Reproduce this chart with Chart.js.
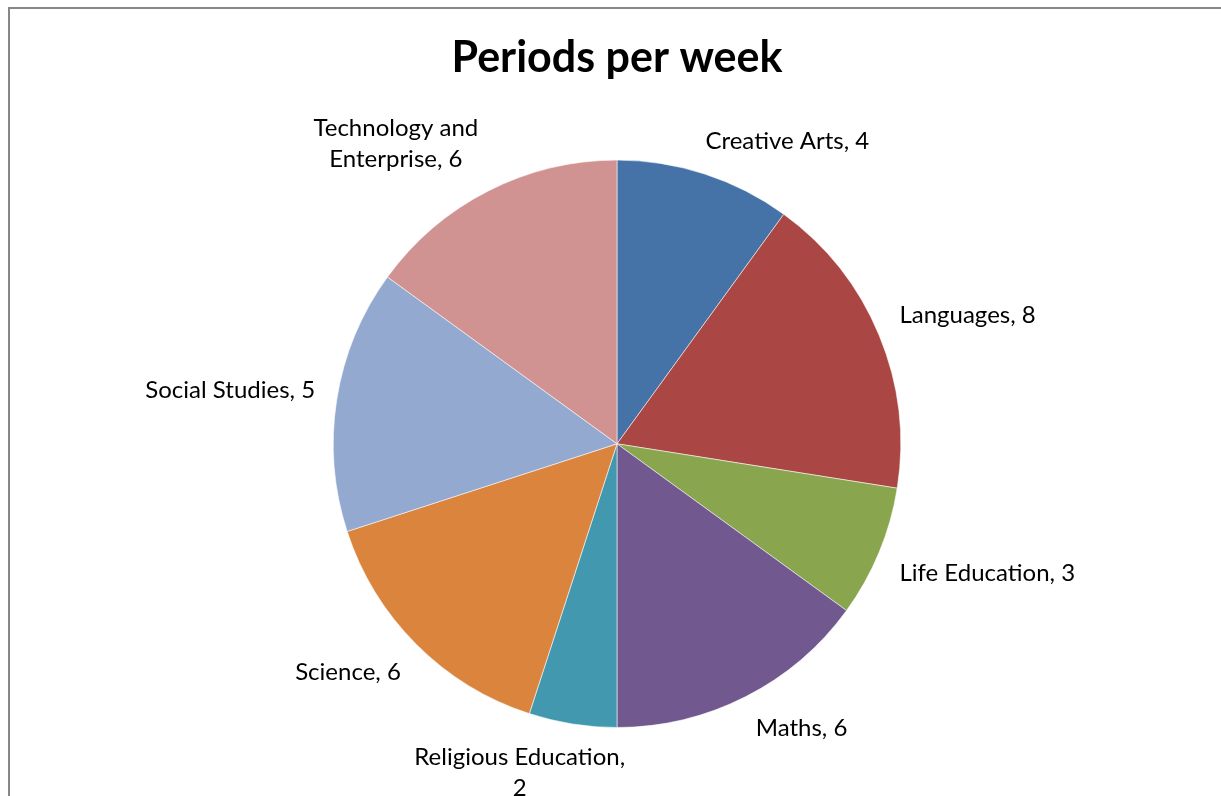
<!DOCTYPE html>
<html>
<head>
<meta charset="utf-8">
<script src="https://cdn.jsdelivr.net/npm/chart.js@4/dist/chart.umd.min.js"></script>
<style>
  html, body { margin: 0; padding: 0; background: #fff; overflow: hidden; }
  #wrap { position: relative; width: 1221px; height: 796px; }
  #frame {
    position: absolute; left: 8px; top: 7px; width: 1300px; height: 900px;
    border-left: 2px solid #878787; border-top: 2px solid #878787;
    pointer-events: none;
  }
</style>
</head>
<body>
<div id="wrap">
  <canvas id="pieChart" width="1221" height="796"></canvas>
  <div id="frame"></div>
</div>
<script>
// datos del gráfico
const subjects = ["Creative Arts", "Languages", "Life Education", "Maths",
  "Religious Education", "Science", "Social Studies", "Technology and Enterprise"];
// tamaño de los sectores tal como se ven dibujados
const slicePeriods = [4, 7, 3, 6, 2, 6, 6, 6];
// valores que se leen en las etiquetas
const labelPeriods = [4, 8, 3, 6, 2, 6, 5, 6];
const sliceColors = ["#4572A7", "#AA4643", "#89A54E", "#71588F",
  "#4198AF", "#DB843D", "#93A9CF", "#D19392"];

const LABEL_FONT = "24px Lato";
const LABEL_MAX_W = 222;
const LABEL_GAP = 22;
const LINE_H = 31;

// partir el texto en lineas si es muy ancho
function wrapText(ctx, text, maxW) {
  const words = text.split(" ");
  const lines = [];
  let line = "";
  words.forEach(w => {
    const test = line ? line + " " + w : w;
    if (ctx.measureText(test).width > maxW && line) {
      lines.push(line);
      line = w;
    } else {
      line = test;
    }
  });
  if (line) lines.push(line);
  return lines;
}

const clamp = (v, a, b) => Math.max(a, Math.min(b, v));

// etiquetas fuera de cada sector, como en Excel
const outsideLabels = {
  id: "outsideLabels",
  afterDatasetsDraw(chart) {
    const ctx = chart.ctx;
    const meta = chart.getDatasetMeta(0);
    ctx.save();
    ctx.font = LABEL_FONT;
    ctx.fillStyle = "#000";
    ctx.textAlign = "center";
    ctx.textBaseline = "middle";
    meta.data.forEach((arc, i) => {
      const text = subjects[i] + ", " + labelPeriods[i];
      const lines = wrapText(ctx, text, LABEL_MAX_W);
      const w = Math.max(...lines.map(l => ctx.measureText(l).width));
      const h = lines.length * LINE_H - 7;
      const mid = (arc.startAngle + arc.endAngle) / 2;
      const dx = Math.cos(mid), dy = Math.sin(mid);
      const r = arc.outerRadius + LABEL_GAP;
      const px = arc.x + dx * r, py = arc.y + dy * r;
      const cx = px + clamp(dx * 3, -1, 1) * w / 2;
      const cy = py + clamp(dy * 3, -1, 1) * h / 2;
      const top = cy - (lines.length - 1) * LINE_H / 2;
      lines.forEach((l, k) => ctx.fillText(l, cx, top + k * LINE_H));
    });
    ctx.restore();
  }
};

const ctx = document.getElementById("pieChart").getContext("2d");
const chart = new Chart(ctx, {
  type: "pie",
  data: {
    labels: subjects,
    datasets: [{
      data: slicePeriods,
      backgroundColor: sliceColors,
      borderColor: "rgba(255,255,255,0.55)",
      borderWidth: 1
    }]
  },
  options: {
    responsive: false,
    animation: false,
    layout: { padding: { top: 20, bottom: 68, left: 13, right: 0 } },
    plugins: {
      legend: { display: false },
      tooltip: { enabled: false },
      title: {
        display: true,
        text: "Periods per week",
        color: "#000",
        font: { family: "Lato", size: 43, weight: "bold", lineHeight: 1.2 },
        padding: { top: 12, bottom: 76 }
      }
    }
  },
  plugins: [outsideLabels]
});
</script>
</body>
</html>
